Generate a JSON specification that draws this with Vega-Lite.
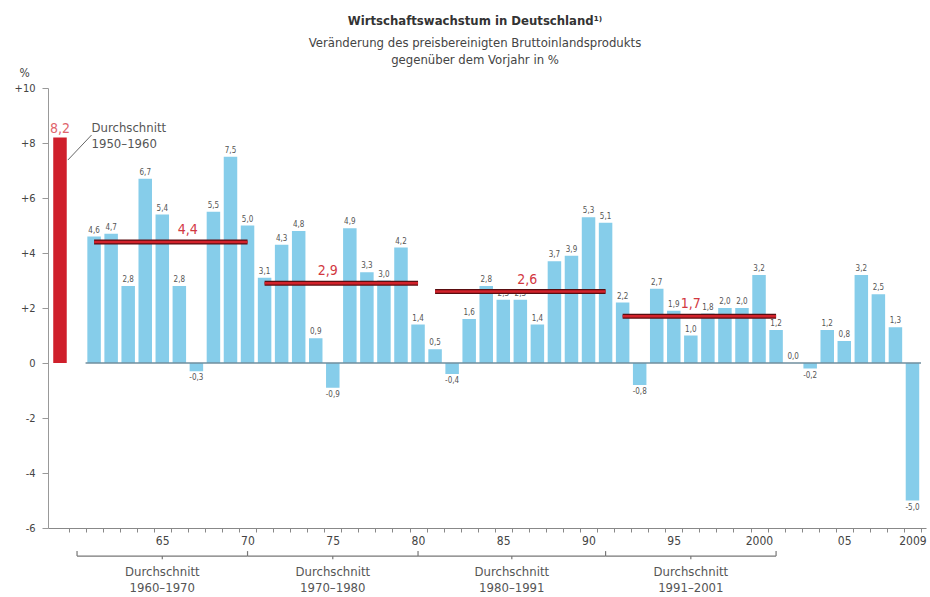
{
  "$schema": "https://vega.github.io/schema/vega-lite/v6.json",
  "autosize": {"type": "none"},
  "width": 878,
  "height": 440,
  "padding": {"left": 48, "top": 88, "right": 4, "bottom": 69},
  "background": "white",
  "title": {
    "text": "Wirtschaftswachstum in Deutschland¹⁾",
    "subtitle": ["Veränderung des preisbereinigten Bruttoinlandsprodukts", "gegenüber dem Vorjahr in %"],
    "anchor": "middle",
    "frame": "group",
    "dx": -12,
    "offset": -1,
    "fontSize": 13,
    "fontWeight": "bold",
    "color": "#333",
    "subtitleFontSize": 13,
    "subtitleColor": "#444",
    "subtitlePadding": 9,
    "subtitleLineHeight": 17
  },
  "datasets": {
    "years": [
      {"year": 1961, "v": 4.6}, {"year": 1962, "v": 4.7}, {"year": 1963, "v": 2.8}, {"year": 1964, "v": 6.7},
      {"year": 1965, "v": 5.4}, {"year": 1966, "v": 2.8}, {"year": 1967, "v": -0.3}, {"year": 1968, "v": 5.5},
      {"year": 1969, "v": 7.5}, {"year": 1970, "v": 5.0}, {"year": 1971, "v": 3.1}, {"year": 1972, "v": 4.3},
      {"year": 1973, "v": 4.8}, {"year": 1974, "v": 0.9}, {"year": 1975, "v": -0.9}, {"year": 1976, "v": 4.9},
      {"year": 1977, "v": 3.3}, {"year": 1978, "v": 3.0}, {"year": 1979, "v": 4.2}, {"year": 1980, "v": 1.4},
      {"year": 1981, "v": 0.5}, {"year": 1982, "v": -0.4}, {"year": 1983, "v": 1.6}, {"year": 1984, "v": 2.8},
      {"year": 1985, "v": 2.3}, {"year": 1986, "v": 2.3}, {"year": 1987, "v": 1.4}, {"year": 1988, "v": 3.7},
      {"year": 1989, "v": 3.9}, {"year": 1990, "v": 5.3}, {"year": 1991, "v": 5.1}, {"year": 1992, "v": 2.2},
      {"year": 1993, "v": -0.8}, {"year": 1994, "v": 2.7}, {"year": 1995, "v": 1.9}, {"year": 1996, "v": 1.0},
      {"year": 1997, "v": 1.8}, {"year": 1998, "v": 2.0}, {"year": 1999, "v": 2.0}, {"year": 2000, "v": 3.2},
      {"year": 2001, "v": 1.2}, {"year": 2002, "v": 0.0}, {"year": 2003, "v": -0.2}, {"year": 2004, "v": 1.2},
      {"year": 2005, "v": 0.8}, {"year": 2006, "v": 3.2}, {"year": 2007, "v": 2.5}, {"year": 2008, "v": 1.3},
      {"year": 2009, "v": -5.0}
    ],
    "avgs": [
      {"start": 1961, "end": 1970, "avg": 4.4, "labelYear": 1966.5},
      {"start": 1971, "end": 1980, "avg": 2.9, "labelYear": 1974.7},
      {"start": 1981, "end": 1991, "avg": 2.6, "labelYear": 1986.4},
      {"start": 1992, "end": 2001, "avg": 1.7, "labelYear": 1996.0}
    ],
    "early": [{"year": 1959, "v": 8.2, "period": "1950–1960"}],
    "brackets": [
      {"start": 1960, "end": 1970, "period": "1960–1970"},
      {"start": 1970, "end": 1980, "period": "1970–1980"},
      {"start": 1980, "end": 1991, "period": "1980–1991"},
      {"start": 1991, "end": 2001, "period": "1991–2001"}
    ],
    "bounds": [{"year": 1960}, {"year": 1970}, {"year": 1980}, {"year": 1991}, {"year": 2001}],
    "one": [{}]
  },
  "layer": [
    {
      "data": {"name": "years"},
      "mark": {"type": "bar", "width": 13.5, "color": "#86cdea"},
      "encoding": {
        "x": {
          "field": "year", "type": "quantitative",
          "scale": {"domain": [1958.59, 2009.5], "nice": false, "zero": false},
          "axis": {
            "title": null,
            "values": [1959.5,1960.5,1961.5,1962.5,1963.5,1964.5,1965.5,1966.5,1967.5,1968.5,1969.5,1970.5,1971.5,1972.5,1973.5,1974.5,1975.5,1976.5,1977.5,1978.5,1979.5,1980.5,1981.5,1982.5,1983.5,1984.5,1985.5,1986.5,1987.5,1988.5,1989.5,1990.5,1991.5,1992.5,1993.5,1994.5,1995.5,1996.5,1997.5,1998.5,1999.5,2000.5,2001.5,2002.5,2003.5,2004.5,2005.5,2006.5,2007.5,2008.5,2009.5],
            "tickCount": 100,
            "labelExpr": "(((datum.value - 0.5) % 5 == 0 && datum.value > 1962) || datum.value == 2009.5) ? (((datum.value - 0.5) == 2000 || datum.value == 2009.5) ? toString(datum.value - 0.5) : slice(toString(datum.value - 0.5), 2)) : ''",
            "labelOffset": -8.62,
            "labelFlush": false,
            "labelOverlap": false,
            "labelBound": false,
            "labelFontSize": 12,
            "labelColor": "#444",
            "labelPadding": 3,
            "tickSize": 4,
            "tickColor": "#888",
            "domainColor": "#888",
            "grid": false
          }
        },
        "y": {
          "field": "v", "type": "quantitative",
          "scale": {"domain": [-6, 10], "nice": false},
          "axis": {
            "title": "%",
            "titleAngle": 0,
            "titleX": -24,
            "titleY": -16,
            "titleAlign": "center",
            "titleBaseline": "middle",
            "titleFontWeight": "normal",
            "titleFontSize": 12,
            "titleColor": "#444",
            "values": [-6, -4, -2, 0, 2, 4, 6, 8, 10],
            "labelExpr": "datum.value > 0 ? '+' + toString(datum.value) : toString(datum.value)",
            "labelFontSize": 11,
            "labelColor": "#444",
            "labelPadding": 7,
            "tickSize": 6,
            "tickColor": "#999",
            "domainColor": "#999",
            "grid": false
          }
        }
      }
    },
    {
      "data": {"name": "one"},
      "mark": {"type": "rule", "color": "#6f8e9e", "strokeWidth": 1.5},
      "encoding": {
        "x": {"datum": 1960.5, "type": "quantitative"},
        "x2": {"datum": 2009.5},
        "y": {"datum": 0, "type": "quantitative"}
      }
    },
    {
      "data": {"name": "years"},
      "transform": [
        {"filter": "datum.v >= 0"},
        {"calculate": "replace(format(datum.v, '.1f'), '.', ',')", "as": "lab"}
      ],
      "mark": {"type": "text", "fontSize": 8, "color": "#555", "baseline": "bottom", "dy": -2},
      "encoding": {
        "x": {"field": "year", "type": "quantitative"},
        "y": {"field": "v", "type": "quantitative"},
        "text": {"field": "lab"}
      }
    },
    {
      "data": {"name": "years"},
      "transform": [
        {"filter": "datum.v < 0"},
        {"calculate": "'-' + replace(format(abs(datum.v), '.1f'), '.', ',')", "as": "lab"}
      ],
      "mark": {"type": "text", "fontSize": 8, "color": "#555", "baseline": "top", "dy": 3},
      "encoding": {
        "x": {"field": "year", "type": "quantitative"},
        "y": {"field": "v", "type": "quantitative"},
        "text": {"field": "lab"}
      }
    },
    {
      "data": {"name": "avgs"},
      "mark": {"type": "rule", "color": "#5a0d10", "strokeWidth": 5},
      "encoding": {
        "x": {"field": "start", "type": "quantitative"},
        "x2": {"field": "end"},
        "y": {"field": "avg", "type": "quantitative"}
      }
    },
    {
      "data": {"name": "avgs"},
      "mark": {"type": "rule", "color": "#d3222b", "strokeWidth": 2.5},
      "encoding": {
        "x": {"field": "start", "type": "quantitative"},
        "x2": {"field": "end"},
        "y": {"field": "avg", "type": "quantitative"}
      }
    },
    {
      "data": {"name": "avgs"},
      "transform": [{"calculate": "replace(format(datum.avg, '.1f'), '.', ',')", "as": "lab"}],
      "mark": {"type": "text", "fontSize": 14, "color": "#d2383f", "baseline": "middle", "dy": -12},
      "encoding": {
        "x": {"field": "labelYear", "type": "quantitative"},
        "y": {"field": "avg", "type": "quantitative"},
        "text": {"field": "lab"}
      }
    },
    {
      "data": {"name": "early"},
      "mark": {"type": "bar", "width": 13.5, "color": "#cf1f2b"},
      "encoding": {
        "x": {"field": "year", "type": "quantitative"},
        "y": {"field": "v", "type": "quantitative"}
      }
    },
    {
      "data": {"name": "early"},
      "transform": [{"calculate": "replace(format(datum.v, '.1f'), '.', ',')", "as": "lab"}],
      "mark": {"type": "text", "fontSize": 14, "color": "#e0646b", "baseline": "bottom", "dy": -2},
      "encoding": {
        "x": {"field": "year", "type": "quantitative"},
        "y": {"field": "v", "type": "quantitative"},
        "text": {"field": "lab"}
      }
    },
    {
      "data": {"name": "one"},
      "mark": {"type": "rule", "color": "#666", "strokeWidth": 1},
      "encoding": {
        "x": {"datum": 1959.46, "type": "quantitative"},
        "x2": {"datum": 1960.85},
        "y": {"datum": 7.38, "type": "quantitative"},
        "y2": {"datum": 8.29}
      }
    },
    {
      "data": {"name": "one"},
      "mark": {"type": "text", "fontSize": 13, "color": "#555", "align": "left", "baseline": "middle"},
      "encoding": {
        "x": {"datum": 1960.85, "type": "quantitative"},
        "y": {"datum": 8.55, "type": "quantitative"},
        "text": {"value": "Durchschnitt"}
      }
    },
    {
      "data": {"name": "early"},
      "mark": {"type": "text", "fontSize": 13, "color": "#555", "align": "left", "baseline": "middle"},
      "encoding": {
        "x": {"datum": 1960.85, "type": "quantitative"},
        "y": {"datum": 7.96, "type": "quantitative"},
        "text": {"field": "period"}
      }
    },
    {
      "data": {"name": "brackets"},
      "mark": {"type": "rule", "color": "#777", "strokeWidth": 1.2},
      "encoding": {
        "x": {"field": "start", "type": "quantitative"},
        "x2": {"field": "end"},
        "y": {"datum": -7.02, "type": "quantitative"}
      }
    },
    {
      "data": {"name": "bounds"},
      "mark": {"type": "rule", "color": "#777", "strokeWidth": 1.2},
      "encoding": {
        "x": {"field": "year", "type": "quantitative"},
        "y": {"datum": -7.02, "type": "quantitative"},
        "y2": {"datum": -6.84}
      }
    },
    {
      "data": {"name": "brackets"},
      "transform": [{"calculate": "(datum.start + datum.end) / 2", "as": "mid"}],
      "mark": {"type": "rule", "color": "#777", "strokeWidth": 1.2},
      "encoding": {
        "x": {"field": "mid", "type": "quantitative"},
        "y": {"datum": -7.02, "type": "quantitative"},
        "y2": {"datum": -7.14}
      }
    },
    {
      "data": {"name": "brackets"},
      "transform": [{"calculate": "(datum.start + datum.end) / 2", "as": "mid"}],
      "mark": {"type": "text", "fontSize": 13, "color": "#555", "baseline": "middle"},
      "encoding": {
        "x": {"field": "mid", "type": "quantitative"},
        "y": {"datum": -7.6, "type": "quantitative"},
        "text": {"value": "Durchschnitt"}
      }
    },
    {
      "data": {"name": "brackets"},
      "transform": [{"calculate": "(datum.start + datum.end) / 2", "as": "mid"}],
      "mark": {"type": "text", "fontSize": 13, "color": "#555", "baseline": "middle"},
      "encoding": {
        "x": {"field": "mid", "type": "quantitative"},
        "y": {"datum": -8.18, "type": "quantitative"},
        "text": {"field": "period"}
      }
    }
  ],
  "config": {
    "font": "Liberation Sans Narrow, DejaVu Sans Condensed, Roboto, sans-serif",
    "view": {"stroke": null},
    "axis": {"labelFlush": false, "labelBound": false}
  }
}
